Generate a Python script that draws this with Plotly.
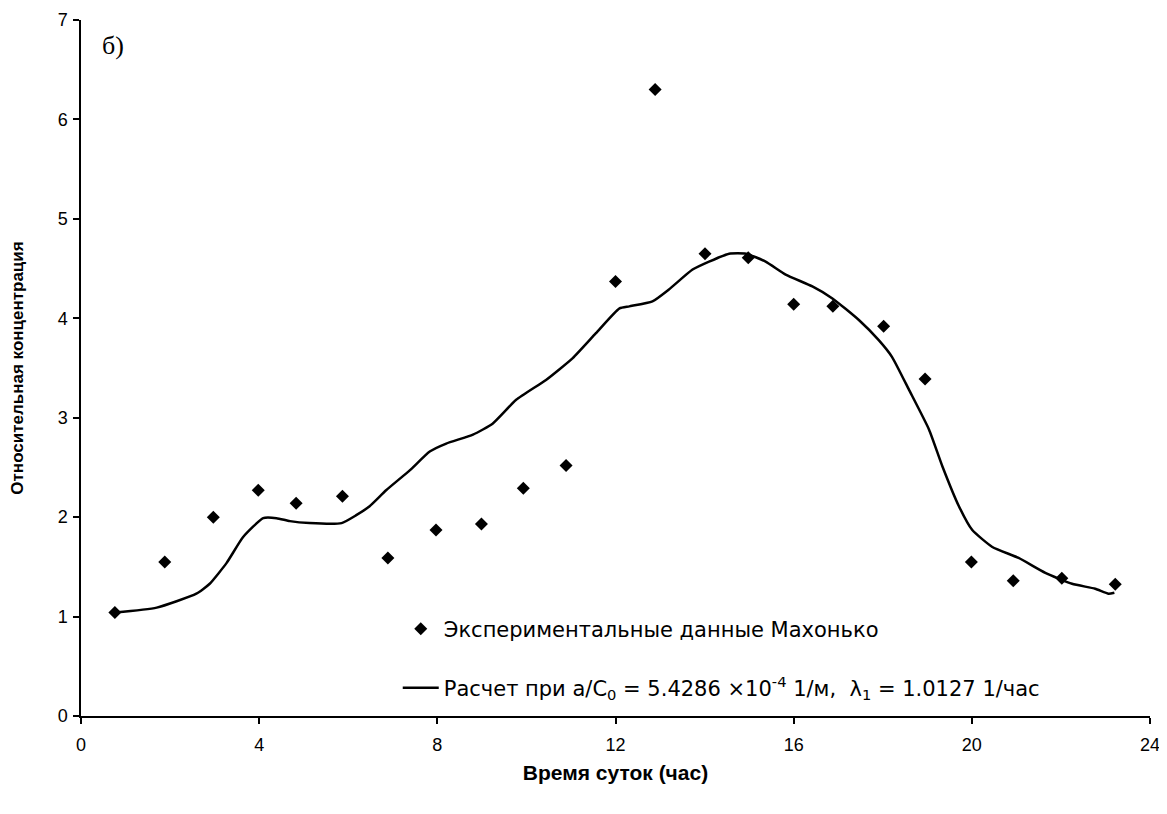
import plotly.graph_objects as go

# Experimental data (Махонько)
exp_hours = [0.76, 1.88, 2.97, 3.98, 4.83, 5.87, 6.89, 7.97, 8.99, 9.93, 10.89, 12.0,
             12.89, 14.01, 14.98, 16.0, 16.88, 18.02, 18.95, 19.99, 20.93, 22.02, 23.22]
exp_conc = [1.04, 1.55, 2.00, 2.27, 2.14, 2.21, 1.59, 1.87, 1.93, 2.29, 2.52, 4.37,
            6.30, 4.65, 4.61, 4.14, 4.12, 3.92, 3.39, 1.55, 1.36, 1.385, 1.325]

# Calculated curve
calc_hours = [0.76, 1.7, 2.59, 2.89, 3.27, 3.64, 4.09, 4.39, 4.69, 5.13, 5.85, 6.18, 6.48,
              6.85, 7.38, 7.83, 8.2, 8.8, 9.24, 9.77, 10.44, 11.04, 11.56, 12.09, 12.31,
              12.83, 13.2, 13.73, 14.1, 14.55, 14.93, 15.37, 15.82, 16.42, 16.87, 17.47,
              17.91, 18.21, 18.59, 19.04, 19.34, 19.71, 20.01, 20.46, 21.05, 21.65, 22.25,
              22.77, 23.07, 23.2]
calc_conc = [1.04, 1.09, 1.23, 1.33, 1.54, 1.80, 1.99, 1.99, 1.96, 1.94, 1.94, 2.02, 2.11,
             2.27, 2.47, 2.66, 2.74, 2.83, 2.94, 3.18, 3.38, 3.60, 3.85, 4.10, 4.12,
             4.17, 4.29, 4.49, 4.57, 4.65, 4.65, 4.57, 4.44, 4.32, 4.20, 3.98,
             3.78, 3.61, 3.28, 2.88, 2.51, 2.11, 1.87, 1.70, 1.59, 1.44, 1.33,
             1.28, 1.23, 1.24]

x_ticks = [0, 4, 8, 12, 16, 20, 24]
y_ticks = [0, 1, 2, 3, 4, 5, 6, 7]

exp_name = "Экспериментальные данные Махонько"
calc_name = "Расчет при a/C<sub>0</sub> = 5.4286 ×10<sup>-4</sup> 1/м, &nbsp;λ<sub>1</sub> = 1.0127 1/час"

fig = go.Figure()
fig.add_trace(go.Scatter(
    x=exp_hours, y=exp_conc, mode="markers", name=exp_name,
    marker=dict(symbol="diamond", size=10, color="black"),
    legend="legend",
))
fig.add_trace(go.Scatter(
    x=calc_hours, y=calc_conc, mode="lines", name=calc_name,
    line=dict(color="black", width=2.5, shape="spline", smoothing=0.5),
    legend="legend2",
))

axis_common = dict(
    showgrid=False, zeroline=False, showline=True, linecolor="black", linewidth=1.5,
    ticks="outside", ticklen=6, tickwidth=1.5, tickcolor="black", automargin=False,
    ticklabeloverflow="allow",
    tickfont=dict(family="Liberation Sans, Arial, sans-serif", size=18, color="black"),
)

legend_font = dict(family="DejaVu Sans, Verdana, sans-serif", size=21, color="black")

fig.update_layout(
    width=1151, height=798,
    paper_bgcolor="white", plot_bgcolor="white",
    margin=dict(l=73, r=9, t=12, b=90),
    showlegend=True,
    xaxis=dict(range=[0, 24], tickvals=x_ticks, ticklabelstandoff=6, **axis_common,
               title=dict(text="Время суток (час)", standoff=11,
                          font=dict(family="Liberation Sans, Arial, sans-serif",
                                    size=21, color="black", weight="bold"))),
    yaxis=dict(range=[0, 7], tickvals=y_ticks, ticklabelstandoff=2, **axis_common,
               title=dict(text="Относительная концентрация", standoff=30,
                          font=dict(family="Liberation Sans, Arial, sans-serif",
                                    size=17, color="black", weight="bold"))),
    legend=dict(x=0.2963, y=0.125, xanchor="left", yanchor="middle", itemwidth=36,
                bgcolor="rgba(0,0,0,0)", borderwidth=0, font=legend_font),
    legend2=dict(x=0.2963, y=0.040, xanchor="left", yanchor="middle", itemwidth=36,
                 bgcolor="rgba(0,0,0,0)", borderwidth=0, font=legend_font),
    annotations=[dict(text="б)", xref="paper", yref="paper", x=0.03, y=0.964,
                      xanchor="center", yanchor="middle", showarrow=False,
                      font=dict(family="Liberation Serif, Times New Roman, serif", size=26, color="black"))],
)

fig.write_html("out.html")
